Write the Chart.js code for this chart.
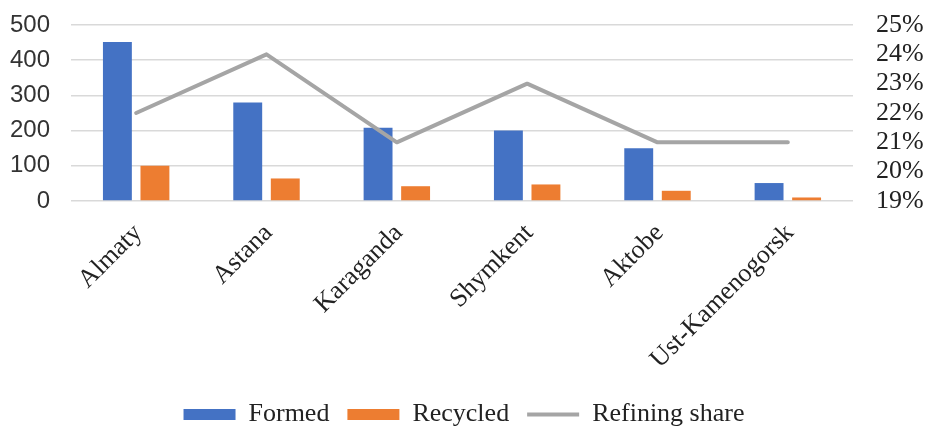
<!DOCTYPE html>
<html>
<head>
<meta charset="utf-8">
<script src="https://cdn.jsdelivr.net/npm/chart.js@4.4.1/dist/chart.umd.min.js"></script>
<style>
	html, body { margin: 0; padding: 0; background: #fff; }
	#box { width: 928px; height: 426px; }
</style>
</head>
<body>
<div id="box"><canvas id="myChart"></canvas></div>
<script>
var cities = ["Almaty", "Astana", "Karaganda", "Shymkent", "Aktobe", "Ust-Kamenogorsk"];
var formed = [452, 280, 208, 200, 150, 51];
var recycled = [100, 64, 42, 47, 29, 10];
var refiningShare = [22, 24, 21, 23, 21, 21];
var leftTicks = [0, 100, 200, 300, 400, 500];
var rightTicks = [19, 20, 21, 22, 23, 24, 25];

var serif = "'Liberation Serif', 'Times New Roman', serif";
var sans = "'Liberation Sans', Arial, sans-serif";

var ctx = document.getElementById("myChart");

var data = {
	labels : cities,
	datasets : [
		{
			label : "Formed",
			data : formed,
			backgroundColor : "#4472C4",
			yAxisID : "y",
			order : 1,
			pointStyle : "rect",
			categoryPercentage : 0.576,
			barPercentage : 0.77
		},
		{
			label : "Recycled",
			data : recycled,
			backgroundColor : "#ED7D31",
			yAxisID : "y",
			order : 1,
			pointStyle : "rect",
			categoryPercentage : 0.576,
			barPercentage : 0.77
		},
		{
			type : "line",
			label : "Refining share",
			data : refiningShare,
			borderColor : "#A5A5A5",
			backgroundColor : "#A5A5A5",
			borderWidth : 4,
			borderCapStyle : "round",
			borderJoinStyle : "round",
			fill : false,
			tension : 0,
			pointRadius : 0,
			pointHoverRadius : 0,
			pointStyle : "line",
			yAxisID : "y1",
			order : 0
		}
	]
};

// fixed axis sizes so the plot area sits where the original one does
function leftFit(s) { s.width = 71; s.paddingTop = 10; s.paddingBottom = 10; }
function rightFit(s) { s.width = 75; s.paddingTop = 10; s.paddingBottom = 10; }

var myChart = new Chart(ctx, {
	type : "bar",
	data : data,
	options : {
		responsive : true,
		maintainAspectRatio : false,
		animation : false,
		layout : { padding : { top : 25, left : 0, right : 0, bottom : -11.5 } },
		plugins : {
			tooltip : { enabled : false },
			legend : {
				position : "bottom",
				labels : {
					usePointStyle : true,
					pointStyleWidth : 52,
					boxHeight : 11,
					padding : 18,
					color : "#222",
					font : { family : serif, size : 26 },
					sort : function(a, b) { return a.datasetIndex - b.datasetIndex; }
				}
			}
		},
		scales : {
			x : {
				grid : { display : false },
				border : { display : false },
				ticks : {
					minRotation : 45,
					maxRotation : 45,
					autoSkip : false,
					padding : 9,
					labelOffset : 2,
					color : "#222",
					font : { family : serif, size : 26 }
				},
				afterFit : function(s) { s.height = 182.5; }
			},
			y : {
				position : "left",
				min : 0,
				max : 500,
				afterBuildTicks : function(s) { s.ticks = leftTicks.map(function(v) { return { value : v }; }); },
				grid : { color : "#D9D9D9", lineWidth : 1.5, drawTicks : false },
				border : { display : false },
				ticks : {
					autoSkip : false,
					padding : 21,
					color : "#333",
					font : { family : sans, size : 24 }
				},
				afterFit : leftFit
			},
			y1 : {
				position : "right",
				min : 19,
				max : 25,
				afterBuildTicks : function(s) { s.ticks = rightTicks.map(function(v) { return { value : v }; }); },
				grid : { display : false, drawTicks : false },
				border : { display : false },
				ticks : {
					autoSkip : false,
					padding : 23,
					color : "#222",
					font : { family : serif, size : 26 },
					callback : function(v) { return v + "%"; }
				},
				afterFit : rightFit
			}
		}
	}
});
</script>
</body>
</html>
